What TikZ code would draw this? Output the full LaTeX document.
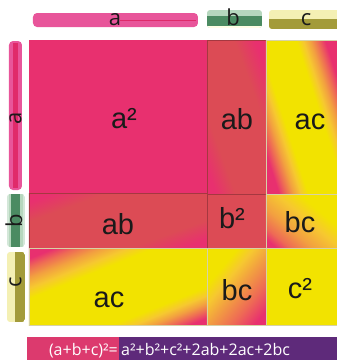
\documentclass[tikz,border=0pt]{standalone}
\usepackage{fontspec}
\setmainfont{Liberation Sans}
\newfontfamily\barfont{Open Sans}
\definecolor{mainpink}{HTML}{E8306F}
\definecolor{barpink}{HTML}{E8559A}
\definecolor{barpinkd}{HTML}{E02A6A}
\definecolor{redc}{HTML}{DC4B55}
\definecolor{salmon}{HTML}{EE6A55}
\definecolor{orangec}{HTML}{F2A040}
\definecolor{yelor}{HTML}{F6C830}
\definecolor{yelc}{HTML}{F2E300}
\definecolor{greenl}{HTML}{B6D7BE}
\definecolor{greend}{HTML}{4B8B62}
\definecolor{yell}{HTML}{F4F0B4}
\definecolor{olive}{HTML}{A39B3A}
\definecolor{fpink}{HTML}{DC3A6E}
\definecolor{fpurple}{HTML}{5E2A7A}
\definecolor{lbl}{HTML}{1A1A1A}
% shadings: 0bp = start of gradient, 100bp = end
\pgfdeclareverticalshading{prpA}{100bp}{color(0bp)=(mainpink); color(8bp)=(mainpink); color(25bp)=(redc); color(72bp)=(redc); color(90bp)=(mainpink); color(100bp)=(mainpink)}
\pgfdeclareverticalshading{prpB}{100bp}{color(0bp)=(mainpink); color(8bp)=(mainpink); color(24bp)=(redc); color(76bp)=(redc); color(92bp)=(mainpink); color(100bp)=(mainpink)}
\pgfdeclareverticalshading{acT}{100bp}{color(0bp)=(mainpink); color(11bp)=(mainpink); color(17bp)=(salmon); color(23bp)=(orangec); color(29bp)=(yelor); color(35bp)=(yelc); color(66bp)=(yelc); color(72bp)=(yelor); color(78bp)=(orangec); color(84bp)=(salmon); color(90bp)=(mainpink); color(100bp)=(mainpink)}
\pgfdeclareverticalshading{acB}{100bp}{color(0bp)=(mainpink); color(5bp)=(mainpink); color(10bp)=(salmon); color(15bp)=(orangec); color(20bp)=(yelor); color(26bp)=(yelc); color(66bp)=(yelc); color(73bp)=(yelor); color(80bp)=(orangec); color(87bp)=(salmon); color(93bp)=(mainpink); color(100bp)=(mainpink)}
\pgfdeclareverticalshading{bcR}{100bp}{color(0bp)=(mainpink); color(8bp)=(mainpink); color(18bp)=(salmon); color(35bp)=(orangec); color(55bp)=(yelor); color(72bp)=(yelc); color(100bp)=(yelc)}
\pgfdeclareverticalshading{bcB}{100bp}{color(0bp)=(yelc); color(25bp)=(yelc); color(38bp)=(yelor); color(52bp)=(orangec); color(72bp)=(salmon); color(90bp)=(mainpink); color(100bp)=(mainpink)}
\newcommand\gtile[7]{%
  \begin{scope}
    \clip (#1,#2) rectangle (#3,#4);
    \begin{scope}[shift={({(#1+#3)/2},{(#2+#4)/2})}, rotate=#6, xscale=3, yscale=#7]
      \pgflowlevelsynccm
      \pgfuseshading{#5}
    \end{scope}
  \end{scope}}
\tikzset{
  tilelbl/.style={text=lbl, font=\fontsize{29}{29}\selectfont, inner sep=0pt, anchor=base},
  barlbl/.style={text=lbl, font=\barfont\fontsize{22}{22}\selectfont, inner sep=0pt},
  redtile/.style={draw=redc!75!black, line width=0.6pt},
  yeltile/.style={draw=olive!45, line width=0.5pt},
}
\begin{document}
\begin{tikzpicture}[x=1pt,y=-1pt]
\useasboundingbox (0,0) rectangle (337,360);
% top bars
\fill[barpink, rounded corners=4pt] (33,13) rectangle (198,27);
\draw[barpinkd, line width=1pt] (120,20) -- (196,20);
\node[barlbl, anchor=base] (ta) at (115,25.5) {a};
\begin{scope}
\clip[rounded corners=3pt] (207,10) rectangle (262,28);
\fill[greenl] (207,10) rectangle (262,28);
\fill[greend] (207,16) rectangle (262,26);
\fill[white!90!yellow] (207,26) rectangle (262,28);
\end{scope}
\node[barlbl, anchor=base] (tb) at (233,25.5) {b};
\begin{scope}
\clip[rounded corners=3pt] (269,10) rectangle (340,29);
\fill[yell] (269,10) rectangle (340,29);
\fill[olive] (269,19) rectangle (340,29);
\end{scope}
\node[barlbl, anchor=base] (tc) at (306,25.5) {c};
% left bars
\fill[barpink, rounded corners=4pt] (9,41) rectangle (22,190);
\fill[barpinkd] (13.5,43) rectangle (18,188);
\node[barlbl, rotate=90] (la) at (15.5,118) {a};
\begin{scope}
\clip[rounded corners=3pt] (7,194) rectangle (25,247);
\fill[greenl!60!white] (7,194) rectangle (25,247);
\fill[greenl] (9,194) rectangle (23,247);
\fill[greend] (11.5,194) rectangle (20,247);
\end{scope}
\node[barlbl, rotate=90] (lb) at (14,221) {b};
\begin{scope}
\clip[rounded corners=3pt] (7,252) rectangle (25,322);
\fill[yell] (7,252) rectangle (25,322);
\fill[olive] (15,252) rectangle (25,322);
\end{scope}
\node[barlbl, rotate=90] (lc) at (15.5,282) {c};
% tiles
\fill[mainpink] (29,40) rectangle (207,193);
\gtile{207}{40}{266}{194}{prpA}{-70}{1.08}
\draw[redtile] (207,40) rectangle (266,194);
\gtile{266}{40}{337}{195}{acT}{-72}{1.15}
\draw[yeltile] (266,40) rectangle (337,195);
\gtile{29}{193}{207}{248}{prpB}{20}{1.13}
\draw[redtile] (29,193) rectangle (207,248);
\fill[redc, redtile] (207,194) rectangle (266,248);
\gtile{266}{194}{337}{248}{bcR}{-40}{0.87}
\draw[yeltile] (266,194) rectangle (337,248);
\gtile{29}{248}{207}{325}{acB}{22}{1.38}
\draw[yeltile] (29,248) rectangle (207,325);
\gtile{207}{248}{266}{325}{bcB}{-130}{0.95}
\draw[yeltile] (207,248) rectangle (266,325);
\fill[yelc, yeltile] (266,248) rectangle (337,325);
% labels
\node[tilelbl] (a2) at (124,128) {a²};
\node[tilelbl] (ab1) at (237,129) {ab};
\node[tilelbl] (ac1) at (310,129) {ac};
\node[tilelbl] (ab2) at (118,234) {ab};
\node[tilelbl] (b2) at (232,228) {b²};
\node[tilelbl] (bc1) at (300,232) {bc};
\node[tilelbl] (ac2) at (109,307) {ac};
\node[tilelbl] (bc2) at (237,300) {bc};
\node[tilelbl] (c2) at (300,298) {c²};
% formula bar
\fill[fpink] (27,337) rectangle (119,360);
\fill[fpurple] (119,337) rectangle (337,360);
\node[text=white, font=\barfont\fontsize{16}{16}\selectfont, anchor=base east, inner sep=0pt] (lhs) at (118,355) {(a+b+c)²=};
\node[text=white, font=\barfont\fontsize{16}{16}\selectfont, anchor=base west, inner sep=0pt] (rhs) at (121,355) {a²+b²+c²+2ab+2ac+2bc};
\end{tikzpicture}
\end{document}
